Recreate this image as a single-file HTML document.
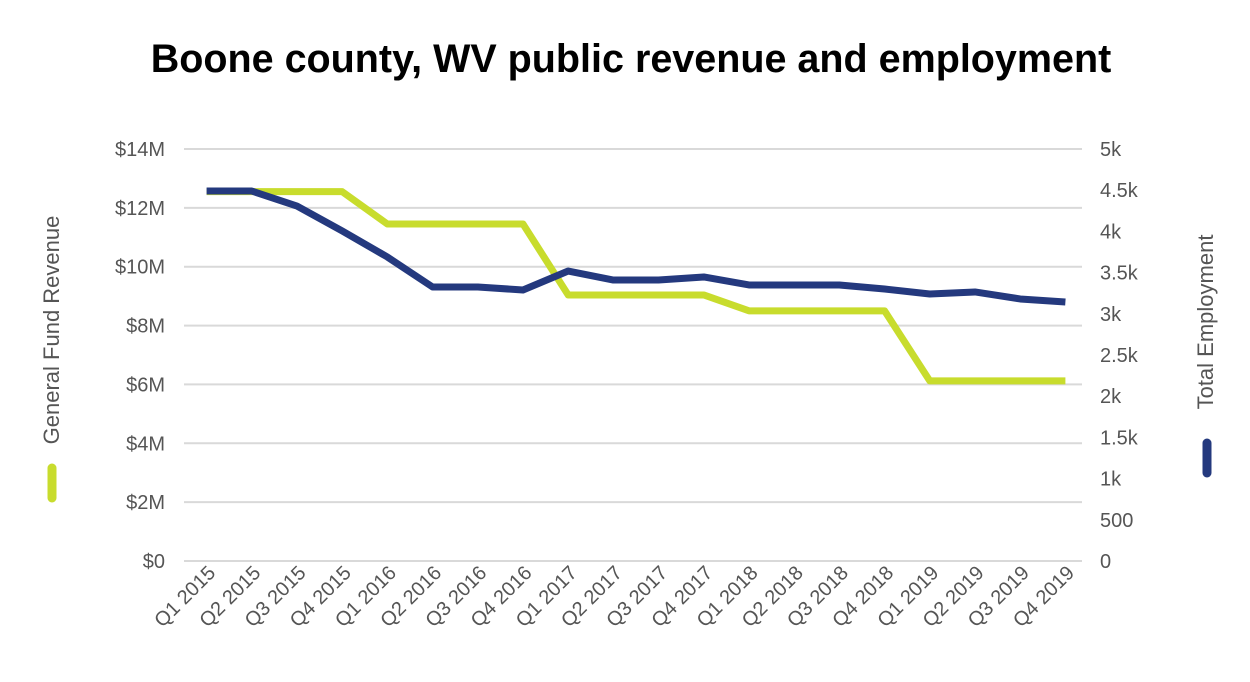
<!DOCTYPE html>
<html><head><meta charset="utf-8"><style>
body{margin:0;background:#fff;}
svg text{font-family:"Liberation Sans",Arial,sans-serif;}
</style></head><body>
<svg id="chart" width="1250" height="677" xmlns="http://www.w3.org/2000/svg">
<text x="631" y="72" text-anchor="middle" font-size="39.5" font-weight="bold" fill="#000">Boone county, WV public revenue and employment</text>
<g id="grid"></g><g id="series"></g><g id="labels"></g>
<text transform="translate(59,330) rotate(-90)" text-anchor="middle" font-size="22" fill="#555">General Fund Revenue</text>
<line x1="52" y1="468" x2="52" y2="498" stroke="#c8dc2d" stroke-width="9" stroke-linecap="round"/>
<text transform="translate(1213,322) rotate(-90)" text-anchor="middle" font-size="22" fill="#555">Total Employment</text>
<line x1="1207" y1="443" x2="1207" y2="473" stroke="#24397e" stroke-width="9" stroke-linecap="round"/>
</svg>
<script>
const categories=["Q1 2015","Q2 2015","Q3 2015","Q4 2015","Q1 2016","Q2 2016","Q3 2016","Q4 2016","Q1 2017","Q2 2017","Q3 2017","Q4 2017","Q1 2018","Q2 2018","Q3 2018","Q4 2018","Q1 2019","Q2 2019","Q3 2019","Q4 2019"];
const revenue=[12.55,12.55,12.55,12.55,11.45,11.45,11.45,11.45,9.04,9.04,9.04,9.04,8.5,8.5,8.5,8.5,6.12,6.12,6.12,6.12];
const employment=[4490,4490,4308,4005,3689,3325,3325,3289,3519,3410,3410,3447,3350,3350,3350,3301,3240,3265,3180,3143];
const leftTicks=[0,2,4,6,8,10,12,14];
const leftTickLabels=["$0","$2M","$4M","$6M","$8M","$10M","$12M","$14M"];
const rightTicks=[0,500,1000,1500,2000,2500,3000,3500,4000,4500,5000];
const rightTickLabels=["0","500","1k","1.5k","2k","2.5k","3k","3.5k","4k","4.5k","5k"];
const NS="http://www.w3.org/2000/svg";
const yTop=149,yBot=561,x0=184,x1=1088;
const step=(x1-x0)/categories.length;
const xS=i=>x0+step*(i+0.5);
const yL=v=>yBot-(v/14)*(yBot-yTop);
const yR=v=>yBot-(v/5000)*(yBot-yTop);
function mk(tag,attrs,parent){const e=document.createElementNS(NS,tag);for(const k in attrs)e.setAttribute(k,attrs[k]);parent.appendChild(e);return e;}
const grid=document.getElementById('grid'),ser=document.getElementById('series'),lab=document.getElementById('labels');
leftTicks.forEach((v,i)=>{
 const l=mk('line',{x1:x0,x2:x1-6,y1:yL(v),y2:yL(v),stroke:'#d9d9d9','stroke-width':2},grid);
 
 
 const t=mk('text',{x:165,y:yL(v)+7,'text-anchor':'end','font-size':20,fill:'#555'},lab);t.textContent=leftTickLabels[i];
 
 
});
rightTicks.forEach((v,i)=>{
 const t=mk('text',{x:1100,y:yR(v)+7,'text-anchor':'start','font-size':20,fill:'#555'},lab);t.textContent=rightTickLabels[i];
 
 
});
categories.forEach((c,i)=>{
 const x=xS(i)+10,y=574;
 const t=mk('text',{x:x,y:y,'text-anchor':'end','font-size':20,fill:'#555',transform:`rotate(-45 ${x} ${y})`},lab);t.textContent=c;
 
 
});
const p1=mk('polyline',{points:revenue.map((v,i)=>xS(i)+','+yL(v)).join(' '),fill:'none',stroke:'#c8dc2d','stroke-width':7,'stroke-linejoin':'round'},ser);


const p2=mk('polyline',{points:employment.map((v,i)=>xS(i)+','+yR(v)).join(' '),fill:'none',stroke:'#24397e','stroke-width':7,'stroke-linejoin':'round'},ser);


</script>
</body></html>
